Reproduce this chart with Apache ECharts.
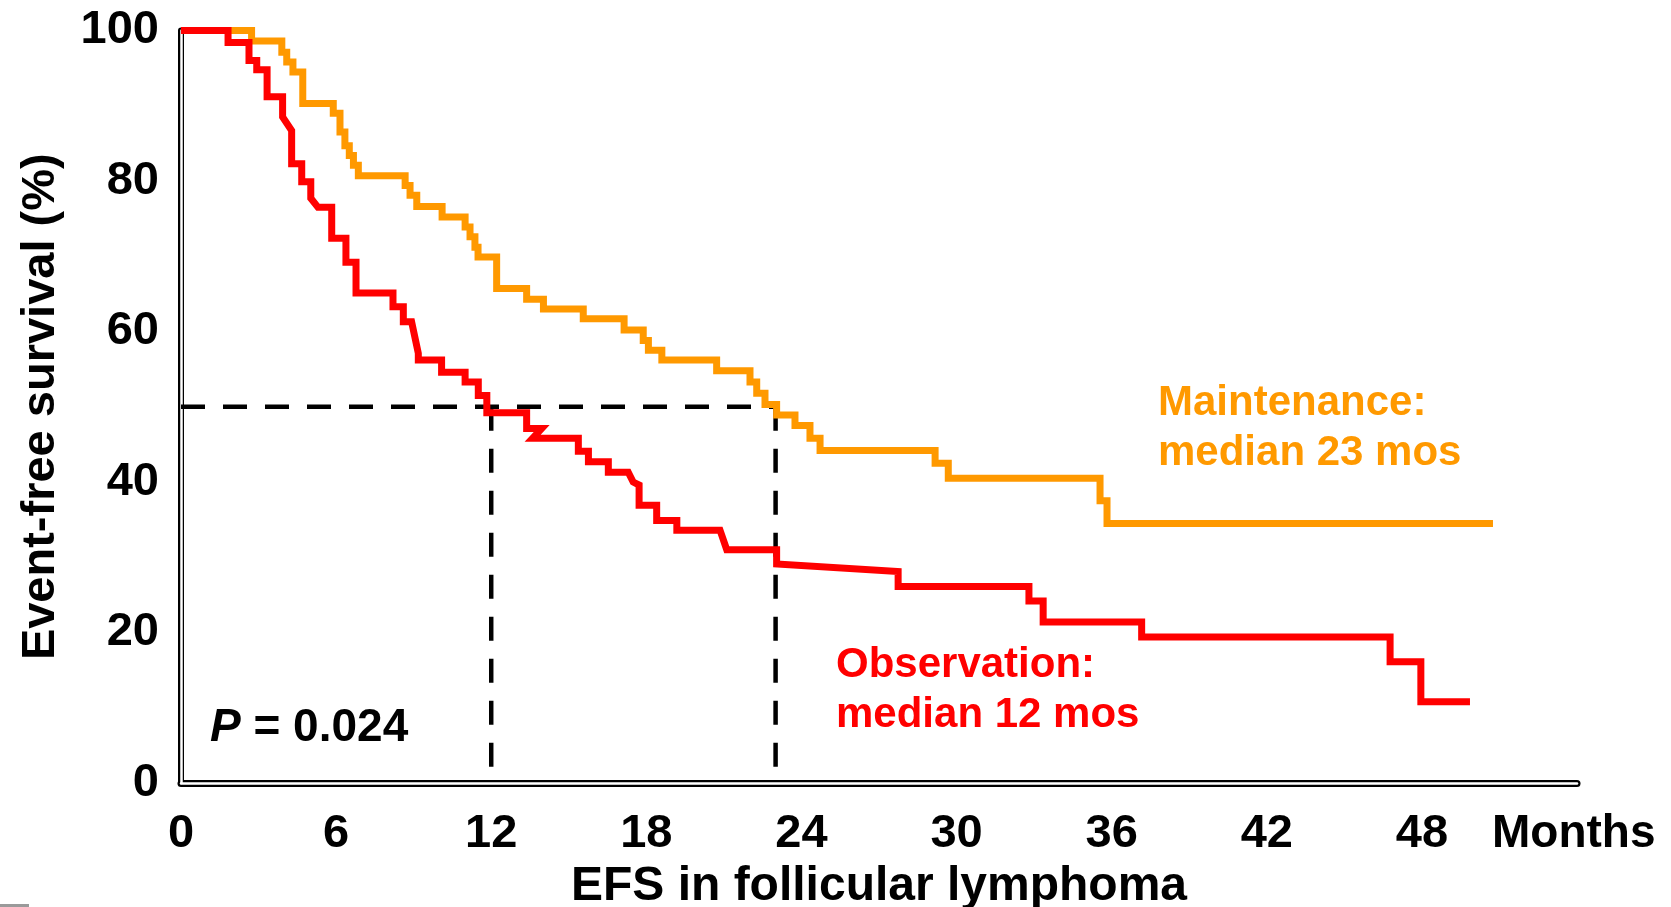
<!DOCTYPE html>
<html>
<head>
<meta charset="utf-8">
<title>EFS in follicular lymphoma</title>
<script src="https://cdn.jsdelivr.net/npm/echarts@6/dist/echarts.min.js"></script>
<style>
  html, body { margin: 0; padding: 0; background: #ffffff; }
  #chart { width: 1671px; height: 907px; }
</style>
</head>
<body>
<div id="chart"></div>
<script>
// Kaplan–Meier curve vertices: [months, event-free survival %]
const maintenanceEFS = [
  [0,100],[2.73,100],[2.73,98.6],[3.90,98.6],[3.90,97.1],[4.09,97.1],[4.09,95.8],
  [4.33,95.8],[4.33,94.5],[4.71,94.5],[4.71,90.3],[5.89,90.3],[5.89,89.0],[6.15,89.0],
  [6.15,86.5],[6.34,86.5],[6.34,84.7],[6.51,84.7],[6.51,83.4],[6.67,83.4],[6.67,82.1],
  [6.86,82.1],[6.86,80.7],[8.67,80.7],[8.67,79.4],[8.86,79.4],[8.86,78.1],[9.12,78.1],
  [9.12,76.6],[10.1,76.6],[10.1,75.2],[10.99,75.2],[10.99,73.9],[11.18,73.9],[11.18,72.6],
  [11.37,72.6],[11.37,71.2],[11.49,71.2],[11.49,69.9],[12.21,69.9],[12.21,65.7],[13.37,65.7],
  [13.37,64.3],[14.02,64.3],[14.02,63.0],[15.56,63.0],[15.56,61.7],[17.14,61.7],[17.14,60.2],
  [17.88,60.2],[17.88,58.8],[18.08,58.8],[18.08,57.5],[18.60,57.5],[18.60,56.2],[20.72,56.2],
  [20.72,54.8],[22.01,54.8],[22.01,53.3],[22.27,53.3],[22.27,51.8],[22.59,51.8],[22.59,50.3],
  [23.04,50.3],[23.04,48.9],[23.75,48.9],[23.75,47.5],[24.33,47.5],[24.33,45.8],[24.72,45.8],
  [24.72,44.2],[29.17,44.2],[29.17,42.5],[29.68,42.5],[29.68,40.5],[35.55,40.5],[35.55,37.5],
  [35.82,37.5],[35.82,34.5],[50.75,34.5]
];
const observationEFS = [
  [0,100],[1.82,100],[1.82,98.4],[2.63,98.4],[2.63,96.0],[2.93,96.0],[2.93,94.8],[3.33,94.8],
  [3.33,91.2],[3.93,91.2],[3.93,88.5],[4.28,86.7],[4.28,82.3],[4.67,82.3],[4.67,79.9],
  [5.02,79.9],[5.02,77.7],[5.30,76.5],[5.83,76.5],[5.83,72.4],[6.38,72.4],[6.38,69.2],
  [6.77,69.2],[6.77,65.1],[8.20,65.1],[8.20,63.3],[8.60,63.3],[8.60,61.3],[8.92,61.3],
  [9.18,57.1],[9.18,56.2],[10.08,56.2],[10.08,54.6],[10.99,54.6],[10.99,53.3],[11.50,53.3],
  [11.50,51.5],[11.83,51.5],[11.83,49.2],[13.37,49.2],[13.37,47.1],[13.95,47.1],[13.6,45.8],
  [15.37,45.8],[15.37,44.1],[15.76,44.1],[15.76,42.7],[16.53,42.7],[16.53,41.3],[17.30,41.3],
  [17.49,40.0],[17.72,39.6],[17.72,36.9],[18.40,36.9],[18.40,34.9],[19.18,34.9],[19.18,33.6],
  [20.85,33.6],[21.11,31.0],[23.04,31.0],[23.04,29.1],[27.74,28.1],[27.74,26.1],[32.8,26.1],
  [32.8,24.2],[33.35,24.2],[33.35,21.4],[37.16,21.4],[37.16,19.4],[46.77,19.4],[46.77,16.1],
  [47.96,16.1],[47.96,10.8],[49.86,10.8]
];

// Median survival guides (50% level)
const medianLevel = 50;
const medianObservation = 12;
const medianMaintenance = 23;

// Axis tick labels
const monthTicks = ['0','6','12','18','24','30','36','42','48'];
const percentTicks = ['0','20','40','60','80','100'];

const FONT = '"Liberation Sans", Arial, Helvetica, sans-serif';
const ORANGE = '#FF9900';
const RED = '#FF0000';

const chart = echarts.init(document.getElementById('chart'), null, { renderer: 'canvas' });

function curve(name, data, color, z) {
  return {
    name, type: 'line', data, xAxisIndex: 0, yAxisIndex: 0,
    symbol: 'none', silent: true, z, clip: false,
    lineStyle: { color, width: 7, cap: 'butt', join: 'miter' }
  };
}
function guide(data) {
  return {
    type: 'line', data, xAxisIndex: 0, yAxisIndex: 0,
    symbol: 'none', silent: true, z: 2,
    lineStyle: { color: '#000000', width: 4.5, type: [24, 18], cap: 'butt' }
  };
}

const hidden = { show: false };
const tickFont = { fontFamily: FONT, fontWeight: 'bold', fontSize: 47, color: '#000000' };

chart.setOption({
  animation: false,
  backgroundColor: '#ffffff',
  grid: { left: 181, right: 94, top: 30.5, bottom: 124, containLabel: false, outerBoundsMode: 'none' },
  xAxis: [
    {
      type: 'value', min: 0, max: 54, interval: 6, z: 0,
      name: 'EFS in follicular lymphoma', nameLocation: 'middle', nameGap: 73,
      nameTextStyle: { fontFamily: FONT, fontWeight: 'bold', fontSize: 48, color: '#000000' },
      axisLine: { show: true, onZero: false, lineStyle: { color: '#000000', width: 7 } },
      axisTick: hidden, splitLine: hidden,
      axisLabel: Object.assign({ margin: 28,
        formatter: v => monthTicks.includes(String(v)) ? String(v) : '' }, tickFont)
    },
    {
      type: 'value', min: 0, max: 54, interval: 6, position: 'bottom', z: 1,
      axisLine: { show: true, onZero: false, lineStyle: { color: '#ffffff', width: 2.5 } },
      axisTick: hidden, splitLine: hidden, axisLabel: hidden
    }
  ],
  yAxis: [
    {
      type: 'value', min: 0, max: 100, interval: 20, z: 0,
      name: 'Event-free survival (%)', nameLocation: 'middle', nameGap: 116,
      nameTextStyle: { fontFamily: FONT, fontWeight: 'bold', fontSize: 47, color: '#000000' },
      axisLine: { show: true, onZero: false, lineStyle: { color: '#000000', width: 6 } },
      axisTick: hidden, splitLine: hidden,
      axisLabel: Object.assign({ margin: 22,
        formatter: v => percentTicks.includes(String(v)) ? String(v) : '' }, tickFont)
    },
    {
      type: 'value', min: 0, max: 100, interval: 20, position: 'left', z: 1,
      axisLine: { show: true, onZero: false, lineStyle: { color: '#ffffff', width: 2.5 } },
      axisTick: hidden, splitLine: hidden, axisLabel: hidden
    }
  ],
  series: [
    guide([[0, medianLevel], [medianMaintenance, medianLevel]]),
    guide([[medianObservation, medianLevel], [medianObservation, 0]]),
    guide([[medianMaintenance, medianLevel], [medianMaintenance, 0]]),
    curve('Maintenance', maintenanceEFS, ORANGE, 3),
    curve('Observation', observationEFS, RED, 4)
  ],
  graphic: [
    {
      type: 'text', x: 1158, y: 378, silent: true, z: 10,
      style: { text: 'Maintenance:\nmedian 23 mos', fill: ORANGE, fontFamily: FONT,
        fontWeight: 'bold', fontSize: 42, lineHeight: 50.5, align: 'left', verticalAlign: 'top' }
    },
    {
      type: 'text', x: 836, y: 640, silent: true, z: 10,
      style: { text: 'Observation:\nmedian 12 mos', fill: RED, fontFamily: FONT,
        fontWeight: 'bold', fontSize: 42, lineHeight: 50, align: 'left', verticalAlign: 'top' }
    },
    {
      type: 'text', x: 210, y: 728, silent: true, z: 10,
      style: {
        text: '{i|P}{b| = 0.024}', fill: '#000000', align: 'left', verticalAlign: 'middle',
        rich: {
          i: { fontFamily: FONT, fontWeight: 'bold', fontStyle: 'italic', fontSize: 46, fill: '#000000' },
          b: { fontFamily: FONT, fontWeight: 'bold', fontSize: 46, fill: '#000000' }
        }
      }
    },
    {
      type: 'text', x: 1492, y: 834, silent: true, z: 10,
      style: { text: 'Months', fill: '#000000', fontFamily: FONT, fontWeight: 'bold',
        fontSize: 46, align: 'left', verticalAlign: 'middle' }
    },
    {
      type: 'rect', silent: true, z: 10,
      shape: { x: 0, y: 904, width: 29, height: 3 },
      style: { fill: '#9a9a9a' }
    }
  ]
});
</script>
</body>
</html>
